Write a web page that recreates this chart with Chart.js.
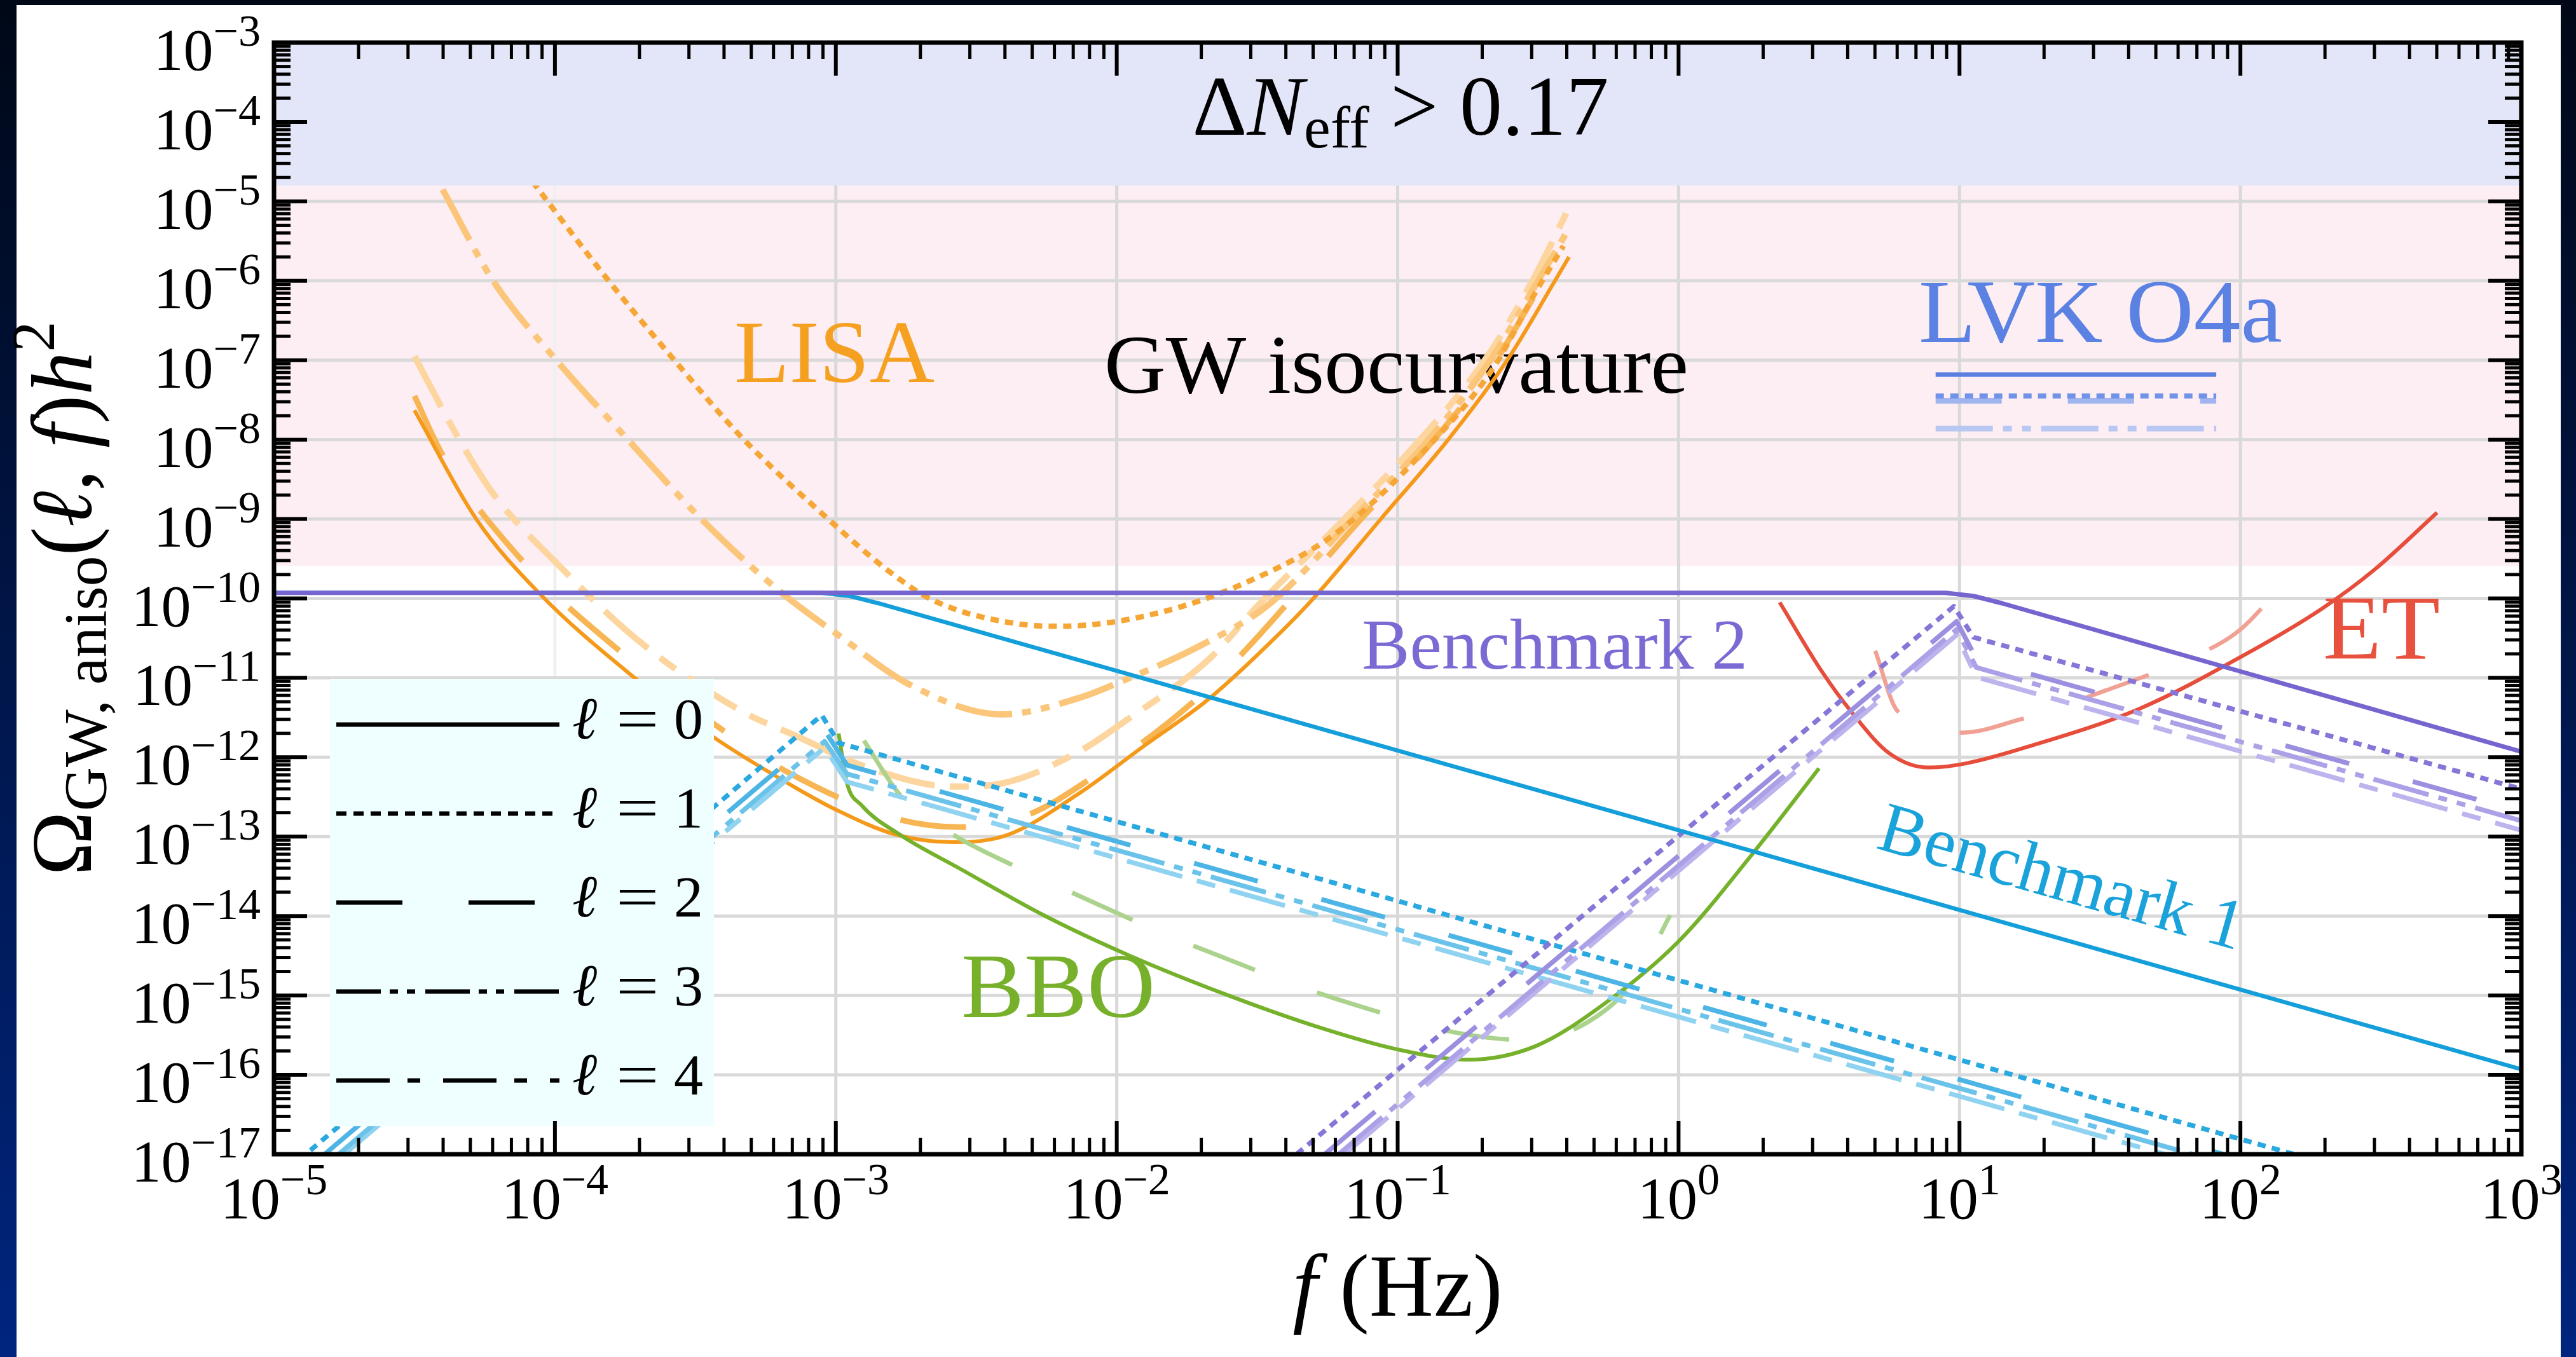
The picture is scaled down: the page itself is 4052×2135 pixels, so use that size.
<!DOCTYPE html>
<html>
<head>
<meta charset="utf-8">
<title>GW anisotropy sensitivity</title>
<script src="https://cdn.jsdelivr.net/npm/chart.js@4.4.1/dist/chart.umd.min.js"></script>
<style>
  html, body { margin: 0; padding: 0; background: #000717; overflow: hidden; }
  canvas { display: block; }
</style>
</head>
<body>
<canvas id="gwChart" width="4052" height="2135"></canvas>
<script>
// Every curve as [log10 f (Hz), log10 Omega h^2]

// LISA, multipoles l = 0..4
const lisaL0 = [[-4.50, -7.63], [-4.28, -9.00], [-4.06, -9.92], [-3.72, -10.99], [-3.43, -11.76],
  [-3.15, -12.37], [-3.00, -12.66], [-2.79, -12.97], [-2.58, -13.07], [-2.39, -12.98],
  [-2.14, -12.47], [-1.90, -11.85], [-1.67, -11.26], [-1.42, -10.44], [-1.30, -10.00],
  [-1.06, -9.00], [-0.82, -8.00], [-0.61, -7.00], [-0.44, -6.00], [-0.39, -5.70]];
const lisaL1 = [[-4.08, -4.75], [-3.82, -5.95], [-3.57, -7.02], [-3.33, -7.99], [-3.04, -8.96],
  [-2.81, -9.66], [-2.65, -10.03], [-2.33, -10.33], [-2.20, -10.35], [-1.86, -10.19],
  [-1.54, -9.80], [-1.22, -9.18], [-0.90, -8.12], [-0.66, -7.10], [-0.51, -6.15], [-0.41, -5.56]];
const lisaL2 = [[-4.50, -7.45], [-4.40, -8.19], [-4.11, -9.55], [-3.76, -10.69], [-3.39, -11.69],
  [-3.15, -12.23], [-2.79, -12.77], [-2.56, -12.88], [-2.32, -12.73], [-2.11, -12.31],
  [-1.73, -11.31], [-1.56, -10.72], [-1.13, -9.00], [-0.87, -8.00], [-0.65, -7.00],
  [-0.48, -6.00], [-0.40, -5.60]];
const lisaL3 = [[-4.40, -4.85], [-4.22, -6.00], [-3.99, -7.02], [-3.73, -8.04], [-3.49, -8.96],
  [-3.21, -9.88], [-2.98, -10.49], [-2.74, -11.08], [-2.41, -11.46], [-2.14, -11.26],
  [-1.96, -11.01], [-1.70, -10.59], [-1.46, -10.08], [-1.16, -9.00], [-0.89, -8.00],
  [-0.67, -7.00], [-0.50, -6.00], [-0.40, -5.40]];
const lisaL4 = [[-4.50, -6.95], [-4.35, -7.94], [-4.22, -8.68], [-3.99, -9.57], [-3.70, -10.54],
  [-3.34, -11.41], [-3.13, -11.75], [-2.91, -12.10], [-2.58, -12.37], [-2.41, -12.33],
  [-2.14, -11.94], [-1.96, -11.52], [-1.67, -10.76], [-1.50, -10.10], [-1.19, -9.00],
  [-0.92, -8.00], [-0.69, -7.00], [-0.52, -6.00], [-0.40, -5.15]];

// BBO (l = 0 and l = 2 visible)
const bboL0 = [[-2.99, -11.70], [-2.96, -12.33], [-2.91, -12.60], [-2.77, -12.98], [-2.56, -13.40],
  [-2.26, -13.99], [-1.96, -14.49], [-1.61, -14.99], [-1.29, -15.39], [-1.00, -15.68],
  [-0.75, -15.81], [-0.51, -15.64], [-0.27, -15.12], [0.00, -14.32], [0.26, -13.23], [0.50, -12.14]];
const bboL2 = [[-2.90, -11.79], [-2.77, -12.48], [-2.58, -12.98], [-2.37, -13.36], [-2.15, -13.72],
  [-1.82, -14.24], [-1.60, -14.55], [-1.38, -14.85], [-1.15, -15.12], [-0.79, -15.47],
  [-0.55, -15.56], [-0.33, -15.35], [-0.15, -14.78], [-0.03, -13.99]];

// Einstein Telescope
const etL0 = [[0.36, -10.05], [0.51, -10.92], [0.62, -11.45], [0.75, -11.95], [0.89, -12.13],
  [1.02, -12.08], [1.26, -11.85], [1.64, -11.39], [2.01, -10.72], [2.29, -10.13],
  [2.48, -9.63], [2.70, -8.92]];
const etL2 = [[0.70, -10.66], [0.78, -11.42], [1.01, -11.69], [1.22, -11.52], [1.31, -11.42],
  [1.52, -11.16], [1.75, -10.85], [1.99, -10.42], [2.16, -9.79]];

// LVK O4a bounds
const lvkL0 = [[0.915, -7.18], [1.914, -7.18]];
const lvkL1 = [[0.915, -7.45], [1.914, -7.45]];
const lvkL2 = [[0.915, -7.51], [1.914, -7.51]];
const lvkL3 = [[0.915, -7.86], [1.914, -7.86]];

// Benchmark spectra and their anisotropies
const bench1 = [[-5.00, -9.93], [-3.05, -9.93], [-2.95, -9.97], [-2.85, -10.06], [3.00, -15.93]];
const bench2 = [[-5.00, -9.93], [0.95, -9.93], [1.05, -9.97], [1.15, -10.06], [3.00, -11.93]];
const bench1L1 = [[-4.91, -17.07], [-3.05, -11.47], [-2.99, -11.82], [2.28, -17.09]];
const bench1L2 = [[-4.82, -17.00], [-3.04, -11.66], [-2.96, -12.10], [1.94, -17.00]];
const bench1L3 = [[-4.77, -17.00], [-3.04, -11.80], [-2.96, -12.21], [1.83, -17.00]];
const bench1L4 = [[-4.75, -17.00], [-3.04, -11.88], [-2.96, -12.31], [1.73, -17.00]];
const bench2L1 = [[-1.36, -17.00], [0.98, -10.10], [1.05, -10.49], [3.00, -12.40]];
const bench2L2 = [[-1.26, -17.00], [0.99, -10.29], [1.06, -10.76], [3.00, -12.69]];
const bench2L3 = [[-1.21, -17.00], [0.99, -10.39], [1.06, -10.87], [3.00, -12.80]];
const bench2L4 = [[-1.19, -17.00], [0.99, -10.46], [1.06, -10.99], [3.00, -12.92]];

// shaded regions, log10 Omega h^2 [bottom, top]
const neffBand = [-4.80, -3.00];
const isoBand = [-9.59, -4.80];

// tick decades
const xTickExps = [-5, -4, -3, -2, -1, 0, 1, 2, 3];
const yTickExps = [-3, -4, -5, -6, -7, -8, -9, -10, -11, -12, -13, -14, -15, -16, -17];

const W = 4052, H = 2135;
const area = { left: 431, top: 67, right: 3966, bottom: 1816 };

const toXY = arr => arr.map(p => ({ x: Math.pow(10, p[0]), y: Math.pow(10, p[1]) }));
const serif = (s, it) => (it ? 'italic ' : '') + s + 'px "Liberation Serif", "DejaVu Serif", serif';

const DOT = [13, 10];
const DASH = [104, 104];
const DASHDOTDOT = [90, 16, 14, 16, 14, 16];
const DASHDOT = [90, 24, 30, 24];

function line(data, color, width, dash, smooth) {
  return {
    data: toXY(data),
    borderColor: color,
    borderWidth: width,
    borderDash: dash || [],
    borderCapStyle: 'butt',
    borderJoinStyle: 'round',
    pointRadius: 0,
    pointHoverRadius: 0,
    fill: false,
    tension: smooth ? 0.4 : 0,
    cubicInterpolationMode: smooth ? 'monotone' : 'default',
    clip: 0
  };
}

// listed bottom to top
const datasets = [
  line(lisaL4, '#fdd59e', 10, DASHDOT, true),
  line(lisaL3, '#fbc679', 10, DASHDOTDOT, true),
  line(lisaL2, '#f8b553', 9, DASH, true),
  line(lisaL1, '#f6a635', 8.5, DOT, true),
  line(lisaL0, '#f5991a', 6, [], true),
  line(bboL2, '#acd38e', 7, DASH, true),
  line(bboL0, '#76b12b', 6, [], true),
  line(etL2, '#f0a194', 6.5, DASH, true),
  line(etL0, '#e64d3b', 6, [], true),
  line(lvkL3, '#b9c8f3', 9, DASHDOTDOT, false),
  line(lvkL2, '#a0b5ef', 9, DASH, false),
  line(lvkL1, '#7093e7', 8, DOT, false),
  line(lvkL0, '#5a7fe0', 7, [], false),
  line(bench1L4, '#8fd3f0', 7.5, DASHDOT, false),
  line(bench1L3, '#6cc3ea', 7.5, DASHDOTDOT, false),
  line(bench1L2, '#4db5e5', 7.5, DASH, false),
  line(bench1L1, '#2aa8e0', 7.5, DOT, false),
  line(bench2L4, '#bdb4ee', 7.5, DASHDOT, false),
  line(bench2L3, '#aca1e7', 7.5, DASHDOTDOT, false),
  line(bench2L2, '#9b8fe0', 7.5, DASH, false),
  line(bench2L1, '#8676d8', 7.5, DOT, false),
  line(bench1, '#159fda', 6.5, [], false),
  line(bench2, '#7565cf', 7, [], false)
];
datasets.forEach((d, i) => { d.order = datasets.length - i; });

function drawRuns(ctx, x, y, parts, align) {
  let w = 0;
  parts.forEach(p => { ctx.font = p.f; w += ctx.measureText(p.t).width; });
  let cx = align === 'right' ? x - w : align === 'center' ? x - w / 2 : x;
  parts.forEach(p => {
    ctx.font = p.f;
    ctx.fillText(p.t, cx, y + (p.dy || 0));
    cx += ctx.measureText(p.t).width;
  });
}

function fitText(ctx, text, x, y, font, color, width, angle) {
  ctx.save();
  ctx.font = font;
  ctx.fillStyle = color;
  const w = ctx.measureText(text).width;
  ctx.translate(x, y);
  if (angle) ctx.rotate(angle);
  ctx.scale(width / w, 1);
  ctx.fillText(text, 0, 0);
  ctx.restore();
}

const sup = e => (e < 0 ? '\u2212' + (-e) : String(e));

const backdrop = {
  id: 'backdrop',
  beforeDraw(chart) {
    const ctx = chart.ctx, xs = chart.scales.x, ys = chart.scales.y;
    ctx.save();
    const g = ctx.createLinearGradient(0, 0, 0, H);
    g.addColorStop(0, '#000817');
    g.addColorStop(1, '#00257f');
    ctx.fillStyle = g;
    ctx.fillRect(0, 0, W, H);
    ctx.fillStyle = '#ffffff';
    ctx.fillRect(26, 8, 4002, H - 8);

    // GW isocurvature region
    const pTop = ys.getPixelForValue(Math.pow(10, isoBand[1]));
    const pBot = ys.getPixelForValue(Math.pow(10, isoBand[0]));
    ctx.fillStyle = '#fdeef3';
    ctx.fillRect(area.left, pTop, area.right - area.left, pBot - pTop);

    // grid
    ctx.lineWidth = 5;
    xTickExps.slice(1, -1).forEach(e => {
      const px = xs.getPixelForValue(Math.pow(10, e));
      ctx.strokeStyle = e === -4 ? '#f1f0f1' : '#d9d9d9';
      ctx.beginPath(); ctx.moveTo(px, area.top); ctx.lineTo(px, area.bottom); ctx.stroke();
    });
    ctx.strokeStyle = '#d9d9d9';
    yTickExps.slice(1, -1).forEach(e => {
      const py = ys.getPixelForValue(Math.pow(10, e));
      ctx.beginPath(); ctx.moveTo(area.left, py); ctx.lineTo(area.right, py); ctx.stroke();
    });

    // region / detector labels
    fitText(ctx, 'LISA', 1155, 601, serif(140), '#f6a021', 315);
    fitText(ctx, 'GW isocurvature', 1737, 618, serif(132), '#000000', 919);
    fitText(ctx, 'BBO', 1512, 1600, serif(145), '#77b12c', 305);
    fitText(ctx, 'ET', 3654, 1036, serif(145), '#e8513e', 184);
    fitText(ctx, 'LVK O4a', 3018, 538, serif(142), '#5b82e3', 572);
    fitText(ctx, 'Benchmark 2', 2142, 1052, serif(112), '#7a6ad3', 607);
    const a0 = { x: xs.getPixelForValue(1e-2), y: ys.getPixelForValue(Math.pow(10, -12.93)) };
    const a1 = { x: xs.getPixelForValue(1e2), y: ys.getPixelForValue(Math.pow(10, -16.93)) };
    const ang = Math.atan2(a1.y - a0.y, a1.x - a0.x);
    fitText(ctx, 'Benchmark 1', 2949, 1334, serif(112), '#1aa2da', 592, ang);
    ctx.restore();
  }
};

const overlay = {
  id: 'overlay',
  afterDatasetsDraw(chart) {
    const ctx = chart.ctx, xs = chart.scales.x, ys = chart.scales.y;
    ctx.save();

    // Delta N_eff region
    const nBot = ys.getPixelForValue(Math.pow(10, neffBand[0]));
    ctx.fillStyle = '#e3e5f8';
    ctx.fillRect(area.left, area.top, area.right - area.left, nBot - area.top);
    ctx.fillStyle = '#000000';
    drawRuns(ctx, 2203, 212, [
      { t: '\u0394', f: serif(134) },
      { t: 'N', f: serif(134, true) },
      { t: 'eff', f: serif(94), dy: 20 },
      { t: ' > 0.17', f: serif(134) }
    ], 'center');

    // multipole legend
    ctx.fillStyle = '#effefe';
    ctx.fillRect(519, 1068, 604, 704);
    const legendDash = [[], [16, 11], [104, 104], [70, 14, 13, 14, 13, 16], [84, 28, 20, 36]];
    legendDash.forEach((d, i) => {
      const y = 1140 + i * 140;
      ctx.strokeStyle = '#000000';
      ctx.lineWidth = 7;
      ctx.lineCap = 'butt';
      ctx.setLineDash(d);
      ctx.beginPath(); ctx.moveTo(529, y); ctx.lineTo(880, y); ctx.stroke();
      ctx.setLineDash([]);
      ctx.fillStyle = '#000000';
      ctx.font = serif(94, true);
      ctx.fillText('\u2113', 900, y + 22);
      ctx.save();
      ctx.translate(969, y + 22);
      ctx.scale(1.3, 1);
      ctx.font = serif(92);
      ctx.fillText('=', 0, 0);
      ctx.restore();
      ctx.font = serif(92);
      ctx.fillText(String(i), 1060, y + 22);
    });

    // frame and inward ticks on all sides
    ctx.setLineDash([]);
    ctx.strokeStyle = '#000000';
    ctx.lineCap = 'butt';
    ctx.lineWidth = 7;
    ctx.strokeRect(area.left, area.top, area.right - area.left, area.bottom - area.top);
    const tick = (x0, y0, x1, y1, w) => {
      ctx.lineWidth = w;
      ctx.beginPath(); ctx.moveTo(x0, y0); ctx.lineTo(x1, y1); ctx.stroke();
    };
    xTickExps.forEach(e => {
      const px = xs.getPixelForValue(Math.pow(10, e));
      tick(px, area.bottom, px, area.bottom - 52, 6);
      tick(px, area.top, px, area.top + 52, 6);
      if (e < 3) {
        for (let k = 2; k <= 9; k++) {
          const pm = xs.getPixelForValue(k * Math.pow(10, e));
          tick(pm, area.bottom, pm, area.bottom - 26, 5);
          tick(pm, area.top, pm, area.top + 26, 5);
        }
      }
    });
    yTickExps.forEach(e => {
      const py = ys.getPixelForValue(Math.pow(10, e));
      tick(area.left, py, area.left + 52, py, 6);
      tick(area.right, py, area.right - 52, py, 6);
      if (e > -17) {
        for (let k = 2; k <= 9; k++) {
          const pm = ys.getPixelForValue(k * Math.pow(10, e - 1));
          tick(area.left, pm, area.left + 26, pm, 5);
          tick(area.right, pm, area.right - 26, pm, 5);
        }
      }
    });

    // tick labels
    ctx.fillStyle = '#000000';
    yTickExps.forEach(e => {
      const py = ys.getPixelForValue(Math.pow(10, e));
      drawRuns(ctx, 410, py + 43, [{ t: '10', f: serif(94) }, { t: sup(e), f: serif(70), dy: -38 }], 'right');
    });
    xTickExps.forEach(e => {
      const px = xs.getPixelForValue(Math.pow(10, e));
      drawRuns(ctx, px, 1917, [{ t: '10', f: serif(94) }, { t: sup(e), f: serif(70), dy: -38 }], 'center');
    });

    // axis titles
    drawRuns(ctx, (area.left + area.right) / 2, 2070, [
      { t: 'f', f: serif(140, true) },
      { t: ' (Hz)', f: serif(140) }
    ], 'center');
    ctx.save();
    ctx.translate(143, (area.top + area.bottom) / 2);
    ctx.rotate(-Math.PI / 2);
    drawRuns(ctx, 0, 0, [
      { t: '\u03A9', f: serif(136) },
      { t: 'GW, aniso', f: serif(96), dy: 24 },
      { t: '(', f: serif(136) },
      { t: '\u2113', f: serif(136, true) },
      { t: ', ', f: serif(136) },
      { t: 'f', f: serif(136, true) },
      { t: ')', f: serif(136) },
      { t: 'h', f: serif(136, true) },
      { t: '2', f: serif(96), dy: -58 }
    ], 'center');
    ctx.restore();
    ctx.restore();
  }
};

new Chart(document.getElementById('gwChart'), {
  type: 'line',
  data: { datasets: datasets },
  options: {
    responsive: false,
    animation: false,
    devicePixelRatio: 1,
    events: [],
    layout: { padding: { left: area.left, top: area.top, right: W - area.right, bottom: H - area.bottom } },
    scales: {
      x: { type: 'logarithmic', min: 1e-5, max: 1e3, display: false },
      y: { type: 'logarithmic', min: 1e-17, max: 1e-3, display: false }
    },
    plugins: { legend: { display: false }, tooltip: { enabled: false } }
  },
  plugins: [backdrop, overlay]
});
</script>
</body>
</html>
